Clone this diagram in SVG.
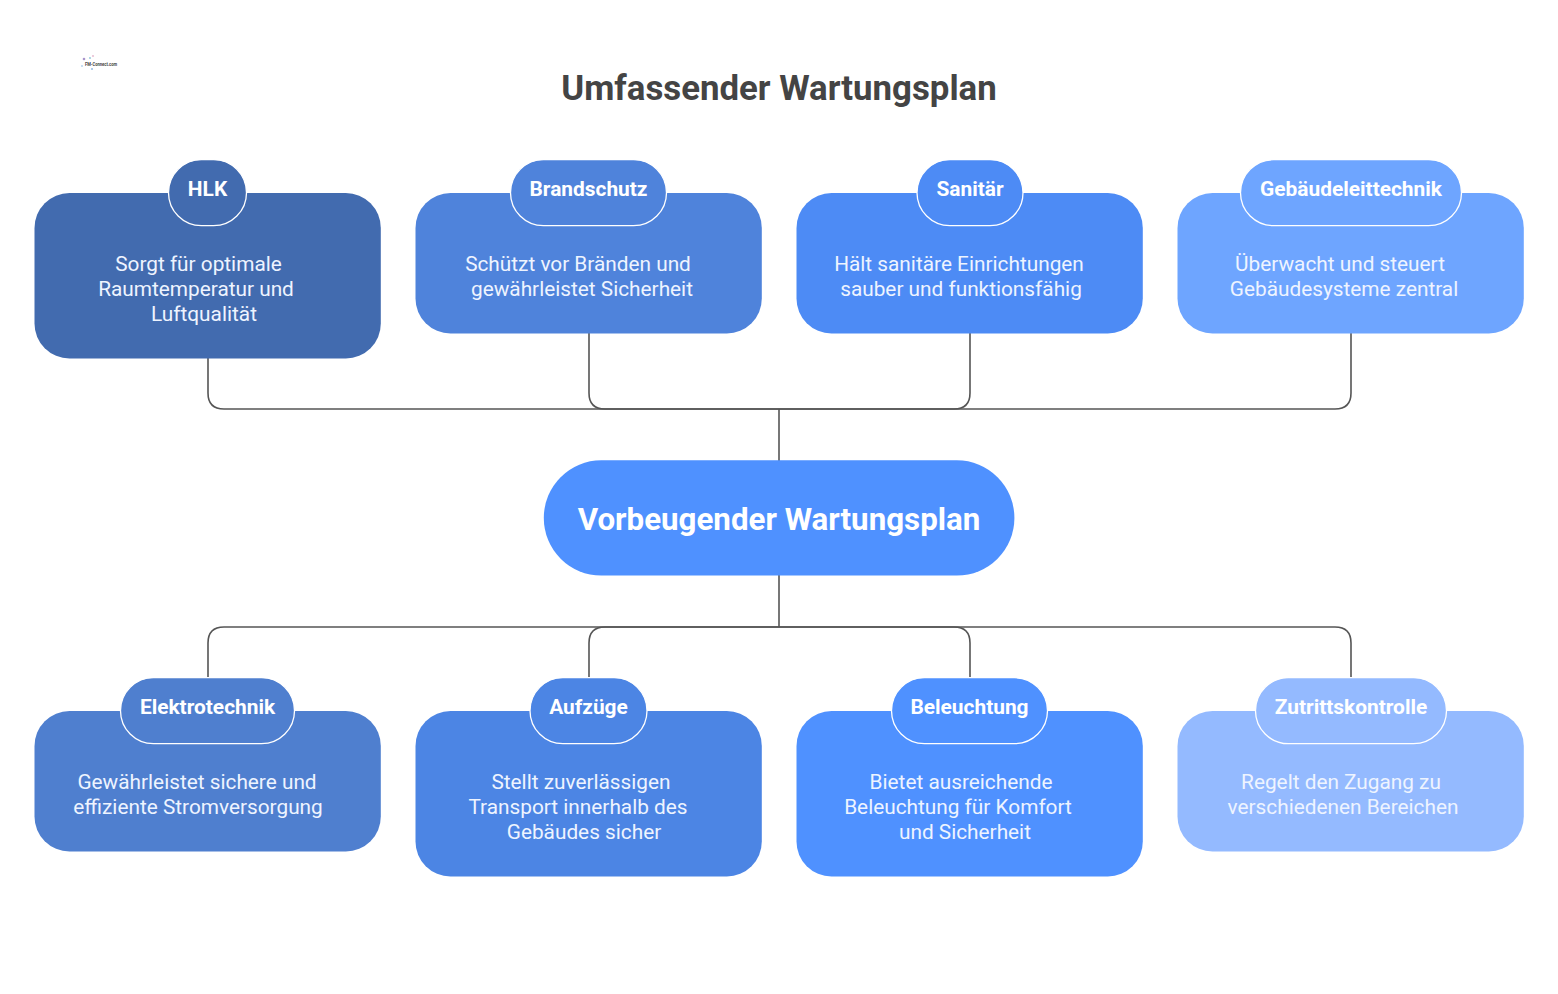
<svg xmlns="http://www.w3.org/2000/svg" width="1558" height="994" viewBox="0 0 1558 994">
<style>
text{font-family:Roboto,"Liberation Sans",sans-serif;text-anchor:middle}
.d{font-size:20.800px;fill:#eef4ff}
.h{font-size:20.900px;font-weight:700;fill:#fff}
.p{stroke:#fff;stroke-width:1.3}
.c{fill:none;stroke:#555;stroke-width:1.6}
</style>
<rect width="1558" height="994" fill="#fff"/>
<g id="logo">
<circle cx="84" cy="59" r="1.300" fill="#a996cc"/><circle cx="93" cy="56" r="1.100" fill="#e8c0d4"/><circle cx="82" cy="66" r="1.100" fill="#bcd6ee"/><circle cx="92" cy="69" r="1.100" fill="#9cc0e4"/><circle cx="90" cy="58" r="0.900" fill="#8cc4d8"/>
<text x="101" y="65.500" style="font-size:4.700px;font-weight:700;fill:#444" textLength="32" lengthAdjust="spacingAndGlyphs">FM-Connect.com</text>
</g>
<text id="title" x="779" y="100" style="font-size:34.800px;font-weight:700;fill:#444">Umfassender Wartungsplan</text>
<g id="connectors" class="c">
<path class="c" d="M208 358V393Q208 409 224 409H1335Q1351 409 1351 393V333"/>
<path class="c" d="M589 333V393Q589 409 605 409H954Q970 409 970 393V333"/>
<path class="c" d="M779 409V461"/>
<path class="c" d="M779 575V627"/>
<path class="c" d="M208 678V643Q208 627 224 627H1335Q1351 627 1351 643V678"/>
<path class="c" d="M589 678V643Q589 627 605 627H954Q970 627 970 643V678"/>
</g>
<g id="center"><rect x="543.800" y="460.300" width="470.600" height="115.300" rx="57.500" fill="#4f91ff"/><text x="779" y="530" style="font-size:31.300px;font-weight:700;fill:#fff">Vorbeugender Wartungsplan</text></g>
<g id="hlk"><rect x="34.500" y="193" width="346.300" height="165.500" rx="35" fill="#426baf"/><rect class="p" x="168.500" y="159.700" width="78" height="66" rx="33" fill="#426baf"/><text class="h" x="207.500" y="195.500">HLK</text><text class="d" x="198.500" y="270.500">Sorgt für optimale</text><text class="d" x="196" y="295.500">Raumtemperatur und</text><text class="d" x="204" y="320.500">Luftqualität</text></g>
<g id="brandschutz"><rect x="415.500" y="193" width="346.300" height="140.500" rx="35" fill="#4f83db"/><rect class="p" x="510.500" y="159.700" width="156" height="66" rx="33" fill="#4f83db"/><text class="h" x="588.500" y="195.500">Brandschutz</text><text class="d" x="578" y="270.500">Schützt vor Bränden und</text><text class="d" x="582" y="295.500">gewährleistet Sicherheit</text></g>
<g id="sanitaer"><rect x="796.500" y="193" width="346.300" height="140.500" rx="35" fill="#4d8bf5"/><rect class="p" x="917" y="159.700" width="106" height="66" rx="33" fill="#4d8bf5"/><text class="h" x="970" y="195.500">Sanitär</text><text class="d" x="959" y="270.500">Hält sanitäre Einrichtungen</text><text class="d" x="961" y="295.500">sauber und funktionsfähig</text></g>
<g id="gebaeudeleittechnik"><rect x="1177.500" y="193" width="346.300" height="140.500" rx="35" fill="#6ea5ff"/><rect class="p" x="1240.500" y="159.700" width="221" height="66" rx="33" fill="#6ea5ff"/><text class="h" x="1351" y="195.500">Gebäudeleittechnik</text><text class="d" x="1340" y="270.500">Überwacht und steuert</text><text class="d" x="1344" y="295.500">Gebäudesysteme zentral</text></g>
<g id="elektrotechnik"><rect x="34.500" y="711" width="346.300" height="140.500" rx="35" fill="#4f7fcf"/><rect class="p" x="120.500" y="677.700" width="174" height="66" rx="33" fill="#4f7fcf"/><text class="h" x="207.500" y="713.500">Elektrotechnik</text><text class="d" x="197" y="788.500">Gewährleistet sichere und</text><text class="d" x="198" y="813.500">effiziente Stromversorgung</text></g>
<g id="aufzuege"><rect x="415.500" y="711" width="346.300" height="165.500" rx="35" fill="#4c85e4"/><rect class="p" x="530" y="677.700" width="117" height="66" rx="33" fill="#4c85e4"/><text class="h" x="588.500" y="713.500">Aufzüge</text><text class="d" x="581" y="788.500">Stellt zuverlässigen</text><text class="d" x="578" y="813.500">Transport innerhalb des</text><text class="d" x="584" y="838.500">Gebäudes sicher</text></g>
<g id="beleuchtung"><rect x="796.500" y="711" width="346.300" height="165.500" rx="35" fill="#4f91ff"/><rect class="p" x="891.500" y="677.700" width="156" height="66" rx="33" fill="#4f91ff"/><text class="h" x="969.500" y="713.500">Beleuchtung</text><text class="d" x="961" y="788.500">Bietet ausreichende</text><text class="d" x="958" y="813.500">Beleuchtung für Komfort</text><text class="d" x="965" y="838.500">und Sicherheit</text></g>
<g id="zutrittskontrolle"><rect x="1177.500" y="711" width="346.300" height="140.500" rx="35" fill="#94baff"/><rect class="p" x="1255.500" y="677.700" width="191" height="66" rx="33" fill="#94baff"/><text class="h" x="1351" y="713.500">Zutrittskontrolle</text><text class="d" x="1341" y="788.500">Regelt den Zugang zu</text><text class="d" x="1343" y="813.500">verschiedenen Bereichen</text></g>
</svg>
